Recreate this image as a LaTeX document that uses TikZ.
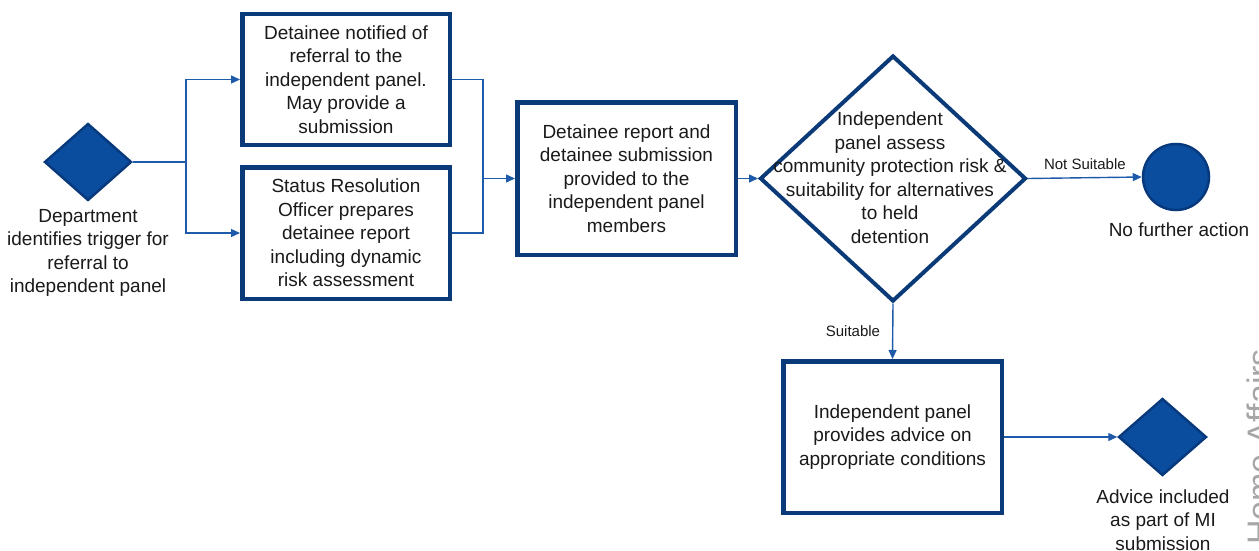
\documentclass[tikz,border=0pt]{standalone}
\usepackage{fontspec}
\setmainfont{Liberation Sans}
\usetikzlibrary{shapes.geometric,arrows.meta}
\definecolor{navy}{HTML}{0B3A78}
\definecolor{bluefill}{HTML}{0A4C9E}
\definecolor{blueedge}{HTML}{07397C}
\definecolor{connc}{HTML}{1E5AAA}
\definecolor{txtc}{HTML}{1A1A1A}
\newcommand\bodyfont{\fontsize{19}{23.5}\selectfont}
\newcommand\smallfont{\fontsize{15}{18}\selectfont}
\begin{document}
\begin{tikzpicture}[x=1pt,y=-1pt,
  box/.style={draw=navy, line width=4.5pt, fill=white, inner sep=0pt, align=center, font=\bodyfont, text=txtc},
  fdiam/.style={diamond, draw=blueedge, fill=bluefill, line width=2.5pt, inner sep=0pt},
  lbl/.style={align=center, font=\bodyfont, text=txtc, inner sep=0pt},
  slbl/.style={font=\smallfont, text=txtc, inner sep=0pt},
  conn/.style={draw=connc, line width=1.4pt},
  arr/.style={conn, -{Triangle[length=9pt,width=8pt]}}]
\useasboundingbox (0,0) rectangle (1259,551);

% watermark (cut off at the right edge, as in the reference)
\node[rotate=90, anchor=north, font=\fontsize{34}{34}\selectfont, text=black!35, inner sep=0pt] (wm) at (1247,447) {Home Affairs};

% nodes
\node[fdiam, minimum width=87pt, minimum height=77pt] (d1) at (88,162) {};
\node[lbl] (d1t) at (88,253) {Department\\identifies trigger for\\referral to\\independent panel};

\node[box, minimum width=207.5pt, minimum height=130.5pt] (b1) at (346,79.5)
  {Detainee notified of\\referral to the\\independent panel.\\May provide a\\submission};
\node[box, minimum width=207.5pt, minimum height=131.5pt] (b2) at (346,233)
  {Status Resolution\\Officer prepares\\detainee report\\including dynamic\\risk assessment};
\node[box, minimum width=218.5pt, minimum height=152.5pt] (b3) at (626.5,178.5)
  {Detainee report and\\detainee submission\\provided to the\\independent panel\\members};

\node[diamond, draw=navy, fill=white, line width=4pt, inner sep=0pt, minimum width=266pt, minimum height=246pt] (d2) at (893,178.5) {};
\node[lbl] (d2t) at (890,177.5) {Independent\\panel assess\\community protection risk \&\\suitability for alternatives\\to held\\detention};

\node[circle, draw=blueedge, fill=bluefill, line width=2.5pt, inner sep=0pt, minimum size=66pt] (c1) at (1176,177) {};
\node[lbl] (c1t) at (1179,230) {No further action};

\node[box, minimum width=218.5pt, minimum height=151.5pt] (b4) at (892.5,437)
  {Independent panel\\provides advice on\\appropriate conditions};

\node[fdiam, minimum width=88pt, minimum height=77pt] (d3) at (1162.5,437) {};
\node[lbl] (d3t) at (1163,520) {Advice included\\as part of MI\\submission};

% connectors
\coordinate (j1) at (186,162);
\coordinate (j2) at (483,178.5);
\draw[conn] (d1.east) -- (j1);
\draw[arr] (j1) |- (b1.west);
\draw[arr] (j1) |- (b2.west);
\draw[conn] (b1.east) -| (j2);
\draw[conn] (b2.east) -| (j2);
\draw[arr] (j2) -- (b3.west);
\draw[arr] (b3.east) -- (d2.west);
\draw[arr] (d2.east) -- node[slbl, above=7pt] (ns) {Not Suitable} (c1.west);
\draw[arr] (d2.south) -- node[slbl, left=12pt] (su) {Suitable} (b4.north);
\draw[arr] (b4.east) -- (d3.west);
\end{tikzpicture}
\end{document}
